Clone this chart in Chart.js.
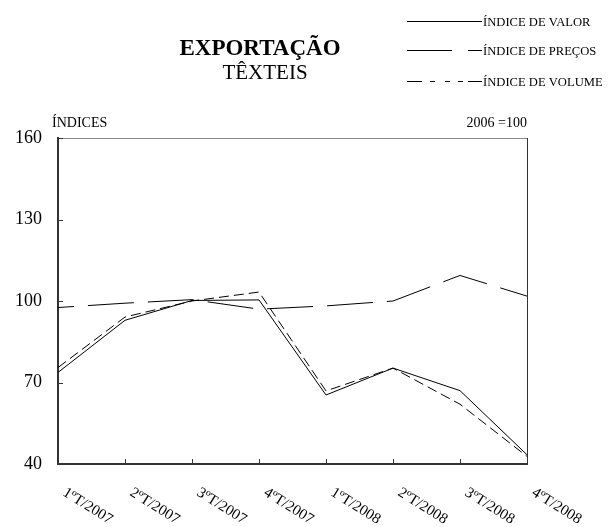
<!DOCTYPE html>
<html>
<head>
<meta charset="utf-8">
<script src="https://cdn.jsdelivr.net/npm/chart.js@4.4.1/dist/chart.umd.min.js"></script>
<style>
  html, body { margin: 0; padding: 0; background: #fff; }
  #wrap { width: 611px; height: 527px; }
</style>
</head>
<body>
<div id="wrap"><canvas id="chart" width="611" height="527"></canvas></div>
<script>
// data
const quarters = ['1ºT/2007', '2ºT/2007', '3ºT/2007', '4ºT/2007', '1ºT/2008', '2ºT/2008', '3ºT/2008', '4ºT/2008'];
const valorIndex = [73.7, 92.9, 100.2, 100.4, 65.4, 75.3, 67.0, 43.4];
const precosIndex = [97.6, 99.2, 100.5, 97.0, 98.2, 100.0, 109.4, 101.8];
const volumeIndex = [75.5, 94.1, 100.0, 103.3, 66.9, 75.3, 62.0, 42.8];
const yTicks = [40, 70, 100, 130, 160];

const seriesNames = ['ÍNDICE DE VALOR', 'ÍNDICE DE PREÇOS', 'ÍNDICE DE VOLUME'];
const titleText = 'EXPORTAÇÃO';
const subtitleText = 'TÊXTEIS';
const yAxisLabel = 'ÍNDICES';
const baseLabel = '2006 =100';

const serif = "'Liberation Serif', 'Times New Roman', serif";

// titles, legend, frame, inner ticks and slanted x labels
const decorations = {
    id: 'decorations',
    afterDraw(chart) {
        const ctx = chart.ctx;
        const area = chart.chartArea;
        const xScale = chart.scales.x;
        const yScale = chart.scales.y;

        ctx.save();

        // frame: top and right edges
        ctx.lineWidth = 1;
        ctx.strokeStyle = '#8a8a8a';
        ctx.beginPath();
        ctx.moveTo(area.left, area.top + 0.5);
        ctx.lineTo(area.right, area.top + 0.5);
        ctx.stroke();
        ctx.strokeStyle = '#333';
        ctx.beginPath();
        ctx.moveTo(area.right + 0.5, area.top);
        ctx.lineTo(area.right + 0.5, area.bottom);
        ctx.stroke();

        // inner tick marks
        ctx.strokeStyle = '#333';
        yTicks.forEach(function(v) {
            const y = Math.round(yScale.getPixelForValue(v)) + 0.5;
            ctx.beginPath();
            ctx.moveTo(area.left, y);
            ctx.lineTo(area.left + 5, y);
            ctx.stroke();
        });
        quarters.forEach(function(q, i) {
            const x = Math.round(xScale.getPixelForValue(i)) + 0.5;
            ctx.beginPath();
            ctx.moveTo(x, area.bottom);
            ctx.lineTo(x, area.bottom - 5);
            ctx.stroke();
        });

        // slanted category labels
        ctx.fillStyle = '#000';
        ctx.font = '15px ' + serif;
        ctx.textAlign = 'left';
        ctx.textBaseline = 'top';
        quarters.forEach(function(q, i) {
            const x = xScale.getPixelForValue(i);
            ctx.save();
            ctx.translate(x + 10, area.bottom + 21);
            ctx.rotate(32 * Math.PI / 180);
            ctx.fillText(q, 0, 0);
            ctx.restore();
        });

        // small labels above the plot
        ctx.font = '14px ' + serif;
        ctx.textBaseline = 'alphabetic';
        ctx.textAlign = 'left';
        ctx.fillText(yAxisLabel, area.left - 6, area.top - 11);
        ctx.textAlign = 'right';
        ctx.fillText(baseLabel, area.right, area.top - 11);

        // title
        ctx.textAlign = 'center';
        ctx.font = 'bold 23px ' + serif;
        ctx.fillText(titleText, 260, 55);
        ctx.font = '21px ' + serif;
        ctx.fillText(subtitleText, 265, 79);

        // legend
        const legendY = [21, 50, 81];
        const legendDash = [[], [45, 16, 20], [15, 8, 5, 10, 5, 8, 5, 5, 14]];
        ctx.font = '12.6px ' + serif;
        ctx.textAlign = 'left';
        ctx.textBaseline = 'middle';
        chart.data.datasets.forEach(function(ds, i) {
            const y = legendY[i] + 0.5;
            ctx.strokeStyle = '#000';
            ctx.lineWidth = 1;
            ctx.setLineDash(legendDash[i]);
            ctx.beginPath();
            ctx.moveTo(407, y);
            ctx.lineTo(482, y);
            ctx.stroke();
            ctx.setLineDash([]);
            ctx.fillText(ds.label, 483, y + 1);
        });

        ctx.restore();
    }
};

const ctx = document.getElementById('chart').getContext('2d');
const chart = new Chart(ctx, {
    type: 'line',
    data: {
        labels: quarters,
        datasets: [{
            label: seriesNames[0],
            data: valorIndex,
            borderColor: '#000',
            borderWidth: 1,
            pointRadius: 0,
            fill: false
        }, {
            label: seriesNames[1],
            data: precosIndex,
            borderColor: '#000',
            borderWidth: 1,
            borderDash: [46, 14],
            borderDashOffset: 30,
            pointRadius: 0,
            fill: false
        }, {
            label: seriesNames[2],
            data: volumeIndex,
            borderColor: '#000',
            borderWidth: 1,
            borderDash: [10, 5],
            pointRadius: 0,
            fill: false
        }]
    },
    options: {
        responsive: false,
        animation: false,
        layout: {
            padding: { top: 138, right: 84, bottom: 63, left: 0 }
        },
        plugins: {
            legend: { display: false },
            title: { display: false },
            tooltip: { enabled: false }
        },
        scales: {
            x: {
                offset: false,
                grid: { display: false, drawTicks: false },
                border: { display: true, color: '#333', width: 2 },
                ticks: { display: false },
                afterFit: function(scale) { scale.height = 0; }
            },
            y: {
                min: 40,
                max: 160,
                afterBuildTicks: function(scale) {
                    scale.ticks = yTicks.map(function(v) { return { value: v }; });
                },
                grid: { display: false, drawTicks: false },
                border: { display: true, color: '#333', width: 2 },
                ticks: {
                    color: '#000',
                    padding: 16,
                    font: { family: serif, size: 18 }
                },
                afterFit: function(scale) { scale.width = 58; }
            }
        }
    },
    plugins: [decorations]
});
</script>
</body>
</html>
